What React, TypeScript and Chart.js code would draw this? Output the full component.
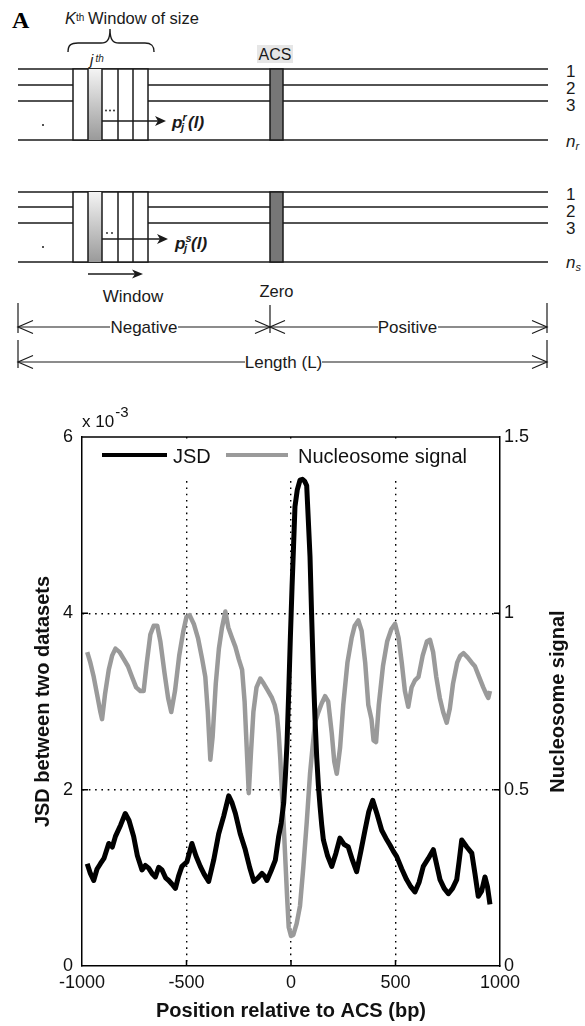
import React, { useEffect, useRef } from 'react';
import { Chart, registerables } from 'chart.js';

Chart.register(...registerables);

// ---------- Panel B data ----------
const xTicks = [-1000, -500, 0, 500, 1000];
const jsdTicks = [0, 2, 4, 6]; // ×10^-3
const nucTicks = [0, 0.5, 1, 1.5];
const seriesLabels = ['JSD', 'Nucleosome signal'];
const xTitle = 'Position relative to ACS (bp)';
const leftTitle = 'JSD between two datasets';
const rightTitle = 'Nucleosome signal';

const jsdPositions = [
  -975, -960, -944, -928, -912, -895, -872, -855, -840, -815,
  -793, -775, -753, -735, -713, -697, -681, -665, -649, -633,
  -617, -600, -585, -570, -553, -538, -522, -498, -474, -455,
  -434, -415, -394, -370, -346, -322, -298, -282, -266, -243,
  -219, -198, -178, -158, -139, -127, -115, -95, -75, -59,
  -47, -35, -27, -19, -11, -3, 5, 12, 19, 30,
  43, 55, 65, 75, 83, 91, 99, 107, 115, 123,
  131, 139, 147, 155, 175, 195, 215, 234, 254, 274,
  294, 314, 334, 354, 372, 391, 412, 434, 454, 474,
  490, 506, 530, 553, 573, 593, 613, 633, 657, 681,
  697, 713, 733, 753, 773, 793, 805, 817, 841, 865,
  880, 896, 912, 928, 940, 952,
];
// JSD values in units of 10^-3
const jsdValues = [
  1.16, 1.05, 0.97, 1.10, 1.16, 1.22, 1.39, 1.35, 1.47, 1.60,
  1.73, 1.65, 1.47, 1.25, 1.09, 1.14, 1.11, 1.05, 1.01, 1.12,
  1.09, 1.00, 0.97, 0.93, 0.88, 1.02, 1.13, 1.18, 1.39, 1.25,
  1.13, 1.04, 0.96, 1.20, 1.50, 1.70, 1.93, 1.85, 1.73, 1.50,
  1.32, 1.12, 0.96, 1.00, 1.05, 1.02, 0.97, 1.08, 1.20, 1.47,
  1.62, 1.85, 2.15, 2.53, 3.10, 3.73, 4.30, 4.75, 5.21, 5.40,
  5.51, 5.52, 5.50, 5.45, 5.05, 4.64, 3.95, 3.32, 2.80, 2.37,
  2.05, 1.81, 1.60, 1.43, 1.25, 1.13, 1.28, 1.45, 1.38, 1.35,
  1.20, 1.07, 1.30, 1.54, 1.75, 1.88, 1.72, 1.54, 1.45, 1.37,
  1.30, 1.24, 1.10, 0.98, 0.90, 0.84, 0.95, 1.13, 1.22, 1.32,
  1.15, 0.98, 0.88, 0.82, 0.88, 0.98, 1.20, 1.43, 1.35, 1.28,
  1.05, 0.79, 0.85, 1.01, 0.90, 0.70,
];

const nucPositions = [
  -975, -960, -944, -928, -912, -904, -890, -872, -856, -840,
  -820, -800, -780, -761, -741, -721, -705, -690, -673, -657,
  -640, -625, -605, -588, -573, -555, -535, -515, -500, -485,
  -465, -445, -425, -410, -398, -386, -375, -360, -345, -330,
  -314, -300, -282, -266, -250, -234, -222, -212, -202, -192,
  -180, -165, -147, -130, -110, -91, -78, -67, -59, -51,
  -43, -35, -27, -19, -11, 0, 11, 27, 43, 59,
  75, 91, 103, 115, 131, 147, 163, 178, 195, 207,
  219, 235, 250, 270, 290, 305, 322, 338, 355, 370,
  385, 395, 407, 420, 440, 460, 480, 498, 515, 530,
  545, 561, 577, 593, 610, 630, 650, 665, 680, 695,
  712, 728, 745, 760, 775, 795, 810, 825, 845, 865,
  880, 900, 920, 935, 944, 952,
];
const nucValues = [
  0.89, 0.86, 0.82, 0.77, 0.72, 0.70, 0.77, 0.84, 0.88, 0.90,
  0.89, 0.87, 0.85, 0.82, 0.79, 0.78, 0.78, 0.86, 0.94, 0.965,
  0.965, 0.92, 0.83, 0.76, 0.72, 0.78, 0.88, 0.95, 0.99, 0.995,
  0.97, 0.93, 0.87, 0.82, 0.72, 0.585, 0.65, 0.80, 0.90, 0.96,
  1.005, 0.96, 0.93, 0.905, 0.87, 0.84, 0.75, 0.62, 0.49, 0.60,
  0.72, 0.79, 0.815, 0.80, 0.78, 0.76, 0.74, 0.71, 0.66, 0.585,
  0.49, 0.40, 0.30, 0.20, 0.11, 0.085, 0.088, 0.12, 0.17, 0.28,
  0.405, 0.545, 0.62, 0.69, 0.72, 0.745, 0.765, 0.75, 0.66, 0.58,
  0.545, 0.62, 0.74, 0.86, 0.93, 0.965, 0.98, 0.95, 0.86, 0.74,
  0.70, 0.64, 0.635, 0.74, 0.85, 0.92, 0.955, 0.97, 0.93, 0.86,
  0.78, 0.735, 0.79, 0.81, 0.82, 0.88, 0.92, 0.925, 0.89, 0.82,
  0.76, 0.72, 0.69, 0.73, 0.80, 0.86, 0.88, 0.887, 0.875, 0.86,
  0.85, 0.82, 0.79, 0.77, 0.76, 0.78,
];

// ---------- styling ----------
const FONT = "'Liberation Sans', Arial, Helvetica, sans-serif";
const SERIF = "'Liberation Serif', 'Times New Roman', serif";
const INK = '#111111';
const JSD_COLOR = '#000000';
const NUC_COLOR = '#9a9a9a';
const GRID_DASH = [1.6, 4.7];

const edgeHidden = (ticks: number[]) => (ctx: any) => {
  const v = ctx.tick ? ctx.tick.value : null;
  return v === ticks[0] || v === ticks[ticks.length - 1] ? 'rgba(0,0,0,0)' : '#000';
};

const panelPlugin = {
  id: 'panelB',
  beforeDatasetsDraw(chart: any) {
    const { ctx, chartArea: a } = chart;
    ctx.save();
    // legend (inside plot, white background)
    ctx.fillStyle = '#ffffff';
    ctx.fillRect(a.left + 3, a.top + 2, 410, 42);
    const ds = chart.data.datasets;
    const items = [
      { x0: a.left + 20, x1: a.left + 85, tx: a.left + 91 },
      { x0: a.left + 144, x1: a.left + 206, tx: a.left + 216 },
    ];
    items.forEach((it, i) => {
      ctx.strokeStyle = ds[i].borderColor;
      ctx.lineWidth = 4;
      ctx.beginPath();
      ctx.moveTo(it.x0, a.top + 18);
      ctx.lineTo(it.x1, a.top + 18);
      ctx.stroke();
      ctx.fillStyle = INK;
      ctx.font = `20px ${FONT}`;
      ctx.textAlign = 'left';
      ctx.textBaseline = 'middle';
      ctx.fillText(ds[i].label, it.tx, a.top + 20);
    });
    ctx.restore();
  },
  afterDraw(chart: any) {
    const { ctx, chartArea: a, scales } = chart;
    ctx.save();
    ctx.strokeStyle = '#000';
    ctx.lineWidth = 1.5;
    // top frame line
    ctx.beginPath();
    ctx.moveTo(a.left, a.top);
    ctx.lineTo(a.right, a.top);
    ctx.stroke();
    // inward tick marks
    const L = 6;
    ctx.beginPath();
    xTicks.slice(1, -1).forEach((v) => {
      const x = scales.x.getPixelForValue(v);
      ctx.moveTo(x, a.bottom);
      ctx.lineTo(x, a.bottom - L);
    });
    jsdTicks.slice(1, -1).forEach((v) => {
      const y = scales.y.getPixelForValue(v);
      ctx.moveTo(a.left, y);
      ctx.lineTo(a.left + L, y);
    });
    nucTicks.slice(1, -1).forEach((v) => {
      const y = scales.y2.getPixelForValue(v);
      ctx.moveTo(a.right, y);
      ctx.lineTo(a.right - L, y);
    });
    ctx.stroke();
    // exponent label
    ctx.fillStyle = INK;
    ctx.textAlign = 'left';
    ctx.textBaseline = 'alphabetic';
    ctx.font = `17px ${FONT}`;
    const base = 'x 10';
    ctx.fillText(base, a.left, a.top - 10);
    const w = ctx.measureText(base).width;
    ctx.font = `15px ${FONT}`;
    ctx.fillText('-3', a.left + w + 1, a.top - 20);
    // right axis title (reads bottom to top)
    ctx.translate(558, (a.top + a.bottom) / 2);
    ctx.rotate(-Math.PI / 2);
    ctx.font = `bold 20px ${FONT}`;
    ctx.textAlign = 'center';
    ctx.textBaseline = 'middle';
    ctx.fillText(rightTitle, 0, 0);
    ctx.restore();
  },
};

function ChartB() {
  const ref = useRef<HTMLCanvasElement>(null);
  useEffect(() => {
    const jsdData = jsdPositions.map((x, i) => ({ x, y: jsdValues[i] }));
    const nucData = nucPositions.map((x, i) => ({ x, y: nucValues[i] }));
    const tickFont = { size: 18, family: FONT };
    const titleFont = { size: 20, weight: 'bold' as const, family: FONT };
    const chart = new Chart(ref.current as HTMLCanvasElement, {
      type: 'line',
      data: {
        datasets: [
          {
            label: seriesLabels[0],
            data: jsdData,
            borderColor: JSD_COLOR,
            backgroundColor: JSD_COLOR,
            borderWidth: 5,
            pointRadius: 0,
            tension: 0,
            borderJoinStyle: 'round',
            yAxisID: 'y',
          },
          {
            label: seriesLabels[1],
            data: nucData,
            borderColor: NUC_COLOR,
            backgroundColor: NUC_COLOR,
            borderWidth: 4.5,
            pointRadius: 0,
            tension: 0,
            borderJoinStyle: 'round',
            yAxisID: 'y2',
          },
        ],
      },
      options: {
        responsive: false,
        animation: false,
        devicePixelRatio: 1,
        layout: { padding: { top: 57, left: 0, right: 0, bottom: 0 } },
        plugins: { legend: { display: false }, tooltip: { enabled: false } },
        scales: {
          x: {
            type: 'linear',
            min: -1000,
            max: 1000,
            afterBuildTicks: (s: any) => {
              s.ticks = xTicks.map((value) => ({ value }));
            },
            afterFit: (s: any) => {
              s.height = 60;
            },
            ticks: {
              font: tickFont,
              color: INK,
              padding: 6,
              maxRotation: 0,
              autoSkip: false,
              callback: (v: any) => String(v),
            },
            grid: { color: edgeHidden(xTicks), lineWidth: 1.4, drawTicks: false },
            border: { display: true, color: '#000', width: 1.5, dash: GRID_DASH },
            title: {
              display: true,
              text: xTitle,
              font: titleFont,
              color: INK,
              padding: { top: 0, bottom: 3 },
            },
          },
          y: {
            type: 'linear',
            position: 'left',
            min: 0,
            max: 6,
            afterBuildTicks: (s: any) => {
              s.ticks = jsdTicks.map((value) => ({ value }));
            },
            afterFit: (s: any) => {
              s.width = 82;
            },
            ticks: { font: tickFont, color: INK, padding: 9, callback: (v: any) => String(v) },
            grid: { color: edgeHidden(jsdTicks), lineWidth: 1.4, drawTicks: false },
            border: { display: true, color: '#000', width: 1.5, dash: GRID_DASH },
            title: {
              display: true,
              text: leftTitle,
              font: titleFont,
              color: INK,
              padding: { top: 31, bottom: 0 },
            },
          },
          y2: {
            type: 'linear',
            position: 'right',
            min: 0,
            max: 1.5,
            afterBuildTicks: (s: any) => {
              s.ticks = nucTicks.map((value) => ({ value }));
            },
            afterFit: (s: any) => {
              s.width = 85;
            },
            ticks: { font: tickFont, color: INK, padding: 4, callback: (v: any) => String(v) },
            grid: { drawOnChartArea: false, drawTicks: false },
            border: { display: true, color: '#000', width: 1.5 },
          },
        },
      } as any,
      plugins: [panelPlugin],
    });
    return () => chart.destroy();
  }, []);
  return (
    <canvas
      ref={ref}
      width={585}
      height={646}
      style={{ position: 'absolute', left: 0, top: 380, width: 585, height: 646 }}
    />
  );
}

// ---------- Panel A (schematic) ----------
const cols = [73, 88, 102, 118, 133, 148];
const groups = [
  { rows: [69, 85, 101, 140], labelY: [77, 94, 111], nY: 147, idx: 'r', arrowY: 121, tip: 166, dotXs: [106, 110, 114], dotsY: 110.5, pX: 172, pY: 128, dotY: 125 },
  { rows: [192, 207, 223, 262], labelY: [200, 217, 234], nY: 268, idx: 's', arrowY: 239, tip: 168, dotXs: [107, 112], dotsY: 233, pX: 175, pY: 249, dotY: 247 },
];

function Diagram() {
  const ink = '#1a1a1a';
  const sw = 1.5;
  const t = { fontFamily: FONT, fill: ink };
  const chevron = (x: number, y: number, dir: number) =>
    `M${x + dir * 15},${y - 6.5} L${x},${y} L${x + dir * 15},${y + 6.5}`;
  return (
    <svg width={585} height={380} style={{ position: 'absolute', left: 0, top: 0 }}>
      <defs>
        <linearGradient id="colGrad" x1="0" y1="0" x2="0" y2="1">
          <stop offset="0" stopColor="#f4f4f4" />
          <stop offset="1" stopColor="#9a9a9a" />
        </linearGradient>
      </defs>
      <text x={12} y={28} fontFamily={SERIF} fontWeight="bold" fontSize={24} fill="#000">A</text>

      <text x={65} y={24} {...t} fontSize={16.5} fontStyle="italic">K</text>
      <text x={76} y={21} {...t} fontSize={10}>th</text>
      <text x={88} y={24} {...t} fontSize={16.5}>Window of size</text>
      <path
        d="M68,52 C68,45 71,43 78,43 L101,43 C107,43 110,40 110,29 C110,40 113,43 119,43 L145,43 C151,43 154,45 154,52"
        fill="none"
        stroke={ink}
        strokeWidth={1.4}
      />
      <text x={90} y={65} {...t} fontSize={15} fontStyle="italic">j</text>
      <text x={95.5} y={62} {...t} fontSize={10} fontStyle="italic">th</text>

      <rect x={257} y={45} width={36} height={18} fill="#e6e6e6" />
      <text x={275} y={60} {...t} fontSize={16} textAnchor="middle">ACS</text>

      {groups.map((g, gi) => {
        const top = g.rows[0];
        const bot = g.rows[3];
        return (
          <g key={gi}>
            {g.rows.map((y) => (
              <line key={y} x1={18} x2={548} y1={y} y2={y} stroke={ink} strokeWidth={sw} />
            ))}
            <rect x={73} y={top} width={75} height={bot - top} fill="#fff" stroke={ink} strokeWidth={sw} />
            <rect x={88} y={top} width={14} height={bot - top} fill="url(#colGrad)" />
            {cols.slice(1, -1).map((x) => (
              <line key={x} x1={x} x2={x} y1={top} y2={bot} stroke={ink} strokeWidth={sw} />
            ))}
            <rect x={270} y={top} width={13} height={bot - top} fill="#777" stroke={ink} strokeWidth={sw} />
            {g.dotXs.map((x) => (
              <circle key={x} cx={x} cy={g.dotsY} r={0.9} fill={ink} />
            ))}
            <line x1={102} x2={g.tip - 6} y1={g.arrowY} y2={g.arrowY} stroke={ink} strokeWidth={sw} />
            <polygon
              points={`${g.tip},${g.arrowY} ${g.tip - 11},${g.arrowY - 5} ${g.tip - 8},${g.arrowY} ${g.tip - 11},${g.arrowY + 5}`}
              fill={ink}
            />
            <text x={g.pX} y={g.pY} {...t} fontSize={17} fontWeight="bold" fontStyle="italic">p</text>
            <text x={g.pX + 9} y={g.pY + 3} {...t} fontSize={11} fontWeight="bold" fontStyle="italic">j</text>
            <text x={g.pX + 10.5} y={g.pY - 7} {...t} fontSize={11} fontWeight="bold" fontStyle="italic">{g.idx}</text>
            <text x={g.pX + 16} y={g.pY} {...t} fontSize={17} fontWeight="bold" fontStyle="italic">(l)</text>
            <circle cx={43} cy={g.dotY} r={1} fill={ink} />
            {['1', '2', '3'].map((s, i) => (
              <text key={s} x={566} y={g.labelY[i]} {...t} fontSize={17}>{s}</text>
            ))}
            <text x={566} y={g.nY} {...t} fontSize={17} fontStyle="italic">n</text>
            <text x={575.5} y={g.nY + 3} {...t} fontSize={11} fontStyle="italic">{g.idx}</text>
          </g>
        );
      })}

      <line x1={88} x2={137} y1={274} y2={274} stroke={ink} strokeWidth={sw} />
      <polygon points="143,274 132,269.5 135,274 132,278.5" fill={ink} />
      <text x={133} y={302} {...t} fontSize={17} textAnchor="middle">Window</text>
      <text x={276.5} y={297} {...t} fontSize={16.5} textAnchor="middle">Zero</text>

      {/* dimension lines */}
      <line x1={18} x2={18} y1={303} y2={333} stroke={ink} strokeWidth={1.2} />
      <line x1={270} x2={270} y1={305} y2={333} stroke={ink} strokeWidth={1.2} />
      <line x1={547} x2={547} y1={303} y2={333} stroke={ink} strokeWidth={1.2} />
      <line x1={18} x2={547} y1={327} y2={327} stroke={ink} strokeWidth={1.2} />
      <path d={chevron(18, 327, 1)} fill="none" stroke={ink} strokeWidth={1.2} />
      <path d={chevron(270, 327, -1)} fill="none" stroke={ink} strokeWidth={1.2} />
      <path d={chevron(270, 327, 1)} fill="none" stroke={ink} strokeWidth={1.2} />
      <path d={chevron(547, 327, -1)} fill="none" stroke={ink} strokeWidth={1.2} />
      <rect x={110} y={319} width={68} height={16} fill="#fff" />
      <text x={144} y={333} {...t} fontSize={17} textAnchor="middle">Negative</text>
      <rect x={378} y={319} width={60} height={16} fill="#fff" />
      <text x={407.5} y={333} {...t} fontSize={17} textAnchor="middle">Positive</text>

      <line x1={18} x2={18} y1={340} y2={368} stroke={ink} strokeWidth={1.2} />
      <line x1={547} x2={547} y1={340} y2={368} stroke={ink} strokeWidth={1.2} />
      <line x1={18} x2={547} y1={362} y2={362} stroke={ink} strokeWidth={1.2} />
      <path d={chevron(18, 362, 1)} fill="none" stroke={ink} strokeWidth={1.2} />
      <path d={chevron(547, 362, -1)} fill="none" stroke={ink} strokeWidth={1.2} />
      <rect x={245} y={354} width={77} height={17} fill="#fff" />
      <text x={283.5} y={368} {...t} fontSize={17} textAnchor="middle">Length (L)</text>

      <text x={15} y={419} fontFamily={SERIF} fontWeight="bold" fontSize={25} fill="#000">B</text>
    </svg>
  );
}

export default function App() {
  return (
    <div
      style={{
        position: 'absolute',
        left: 0,
        top: 0,
        width: 585,
        height: 1026,
        background: '#fff',
        overflow: 'hidden',
      }}
    >
      <ChartB />
      <Diagram />
    </div>
  );
}
